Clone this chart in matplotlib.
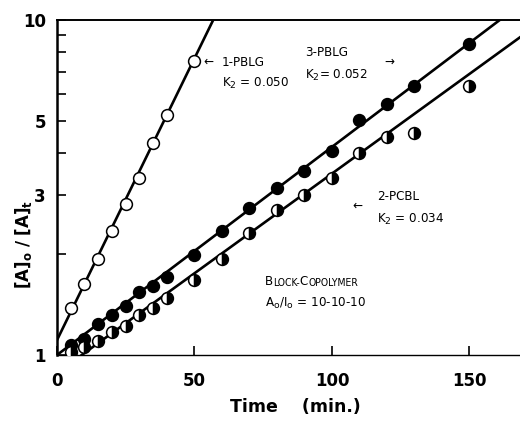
import numpy as np
import matplotlib
matplotlib.use('Agg')
import matplotlib.pyplot as plt

# valeurs (temps en min, rapport [A]o/[A]t)
t_pblg1 = [5, 10, 15, 20, 25, 30, 35, 40, 50]
r_pblg1 = [1.38, 1.63, 1.93, 2.35, 2.83, 3.38, 4.30, 5.19, 7.55]

t_pblg3 = [5, 10, 15, 20, 25, 30, 35, 40, 50, 60, 70, 80, 90, 100, 110, 120, 130, 150]
r_pblg3 = [1.07, 1.12, 1.24, 1.32, 1.40, 1.54, 1.61, 1.71, 1.99, 2.35, 2.75,
           3.16, 3.53, 4.07, 5.03, 5.60, 6.35, 8.46]

t_pcbl2 = [5, 10, 15, 20, 25, 30, 35, 40, 50, 60, 70, 80, 90, 100, 110, 120, 130, 150]
r_pcbl2 = [1.02, 1.06, 1.10, 1.17, 1.22, 1.32, 1.38, 1.48, 1.68, 1.93, 2.31,
           2.70, 3.00, 3.37, 4.00, 4.47, 4.61, 6.35]

# droites : log10(y) = a + b*t
fit_a = [0.0445, 0.0, -0.0536]
fit_b = [0.01682, 0.00621, 0.00595]
fit_t0 = [0, 0, 9]

xticks = [0, 50, 100, 150]
yticks = [1, 2, 3, 4, 5, 6, 7, 8, 9, 10]
ylabels = ['1', '', '3', '', '5', '', '', '', '', '10']

fig = plt.figure(figsize=(5.2, 4.22), dpi=100)
ax = fig.add_axes([57/520, 1 - 355/422, 463/520, 335/422])
ax.set_yscale('log')
ax.set_xlim(0, 168.4)
ax.set_ylim(1, 10)

for a, b, t0 in zip(fit_a, fit_b, fit_t0):
    tt = np.array([t0, 170])
    ax.plot(tt, 10 ** (a + b * tt), color='black', lw=1.9, zorder=2)

ms = 8.5
ax.plot(t_pblg1, r_pblg1, 'o', ms=ms, mfc='white', mec='black', mew=1.1, zorder=3)
ax.plot(t_pblg3, r_pblg3, 'o', ms=ms, mfc='black', mec='black', mew=1.1, zorder=3)
ax.plot(t_pcbl2, r_pcbl2, 'o', ms=ms, fillstyle='right', mfc='black',
        markerfacecoloralt='white', mec='black', mew=1.1, zorder=3)

ax.set_xticks(xticks)
ax.set_xticklabels([str(v) for v in xticks])
ax.set_yticks(yticks)
ax.set_yticklabels(ylabels)
ax.minorticks_off()
ax.tick_params(axis='y', direction='in', length=6.5, width=1.2, pad=8)
ax.tick_params(axis='x', direction='in', length=6.5, width=1.2, pad=12)
for lab in ax.get_xticklabels() + ax.get_yticklabels():
    lab.set_fontweight('bold')
    lab.set_fontsize(12)

ax.spines['right'].set_visible(False)
ax.spines['left'].set_linewidth(1.8)
ax.spines['top'].set_linewidth(1.4)
ax.spines['bottom'].set_linewidth(1.0)

def px(x, y):
    # pixel de l'image -> fraction des axes
    return (x - 57) / 463, (355 - y) / 335

kw = dict(transform=ax.transAxes, fontsize=9.5, va='center', fontstretch='condensed')
ax.text(*px(203, 62), '\u2190', **kw)
ax.text(*px(222, 62), '1-PBLG', **kw)
ax.text(*px(222, 83), 'K$_2$ = 0.050', **kw)
ax.text(*px(305, 52), '3-PBLG', **kw)
ax.text(*px(305, 75), 'K$_2$= 0.052', **kw)
ax.text(*px(384, 62), '\u2192', **kw)
ax.text(*px(352, 206), '\u2190', **kw)
ax.text(*px(377, 196), '2-PCBL', **kw)
ax.text(*px(377, 219), 'K$_2$ = 0.034', **kw)

# petites capitales pour BLOCK-COPOLYMER
kb = dict(fontstretch='condensed', va='bottom')
t1 = ax.text(*px(265, 288), 'B', transform=ax.transAxes, fontsize=9.5, **kb)
t2 = ax.annotate('LOCK-', xy=(1, 0), xycoords=t1, fontsize=7.5, **kb)
t3 = ax.annotate('C', xy=(1, 0), xycoords=t2, fontsize=9.5, **kb)
ax.annotate('OPOLYMER', xy=(1, 0), xycoords=t3, fontsize=7.5, **kb)
ax.text(*px(265, 303), 'A$_\\mathrm{o}$/I$_\\mathrm{o}$ = 10-10-10', **kw)

ax.text(*px(295, 407), 'Time    (min.)', transform=ax.transAxes, fontsize=12.5,
        fontweight='bold', ha='center', va='center')
ax.text(*px(24, 244), r'$\mathbf{[A]_o\ /\ [A]_t}$', transform=ax.transAxes,
        fontsize=12, rotation=90, ha='center', va='center')

fig.savefig('out.png', dpi=100)
